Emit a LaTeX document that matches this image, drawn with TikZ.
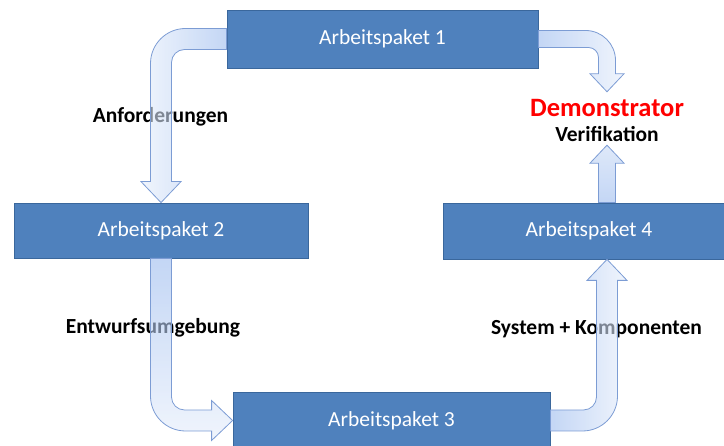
\documentclass[tikz,border=0pt]{standalone}
\usepackage{fontspec}
\setmainfont{Carlito}
\usepackage{xcolor}
\usepackage{tikz}
\usetikzlibrary{calc}

\definecolor{paketblau}{HTML}{4F81BD}
\definecolor{paketrand}{HTML}{3A679C}
\definecolor{pfeilrand}{HTML}{7C9CD4}
\definecolor{pfeildunkel}{HTML}{9CBBEE}
\definecolor{pfeilhell}{HTML}{E6EEFB}
\definecolor{demorot}{HTML}{FF0000}

\begin{document}
\begin{tikzpicture}[
    x=1pt, y=1pt,
    paket/.style={draw=paketrand, line width=0.8pt, fill=paketblau, text=white, inner sep=0pt, font=\fontsize{21.5}{24}\selectfont},
    beschriftung/.style={font=\bfseries\fontsize{21.5}{24}\selectfont},
    blockpfeil/.style={draw=pfeilrand, line width=0.8pt, fill opacity=0.6}
]
\useasboundingbox (0,0) rectangle (724,446);
\clip (0,0) rectangle (724,446);

% Arbeitspakete
\node[paket, minimum width=311pt, minimum height=58pt] (ap1) at (382.5,407) {Arbeitspaket 1};
\node[paket, minimum width=294pt, minimum height=55pt] (ap2) at (161,215.5) {Arbeitspaket 2};
\node[paket, minimum width=317pt, minimum height=57pt] (ap3) at (391.5,25.5) {Arbeitspaket 3};
\node[paket, minimum width=292pt, minimum height=56pt] (ap4) at (589,215) {Arbeitspaket 4};

% Beschriftungen
\node[beschriftung] (anf) at (160.5,329) {Anforderungen};
\node[beschriftung] (entw) at (153,118) {Entwurfsumgebung};
\node[beschriftung] (sys) at (596.5,117) {System + Komponenten};
\node[beschriftung, text=demorot, font=\bfseries\fontsize{26.5}{30}\selectfont] (demo) at (607,338) {Demonstrator};
\node[beschriftung] (veri) at (607,312) {Verifikation};

% AP1 -> AP2
\path[blockpfeil, left color=pfeilhell, right color=pfeildunkel]
    let \p1=(ap1.west), \p2=(ap2.north) in
    (\x1,\y1+10.5) -- (\x2+24.5,\y1+10.5) arc[start angle=90, end angle=180, radius=35]
    -- (\x2-10.5,\y2+21) -- (\x2-20,\y2+21) -- (\p2) -- (\x2+20,\y2+21) -- (\x2+10.5,\y2+21)
    -- (\x2+10.5,\y1-23.5) arc[start angle=180, end angle=90, radius=13]
    -- (\x1,\y1-10.5) -- cycle;

% AP2 -> AP3
\path[blockpfeil, top color=pfeildunkel, bottom color=pfeilhell]
    let \p1=(ap2.south), \p2=(ap3.west) in
    (\x1-10.5,\y1) -- (\x1-10.5,\y2+24.5) arc[start angle=180, end angle=270, radius=35]
    -- (\x2-21,\y2-10.5) -- (\x2-21,\y2-20) -- (\p2) -- (\x2-21,\y2+20) -- (\x2-21,\y2+10.5)
    -- (\x1+23.5,\y2+10.5) arc[start angle=270, end angle=180, radius=13]
    -- (\x1+10.5,\y1) -- cycle;

% AP3 -> AP4
\path[blockpfeil, left color=pfeildunkel, right color=pfeilhell]
    let \p1=(ap3.east), \p2=(ap4.south -| veri) in
    (\x1,\y1-10.5) -- (\x2-24.5,\y1-10.5) arc[start angle=270, end angle=360, radius=35]
    -- (\x2+10.5,\y2-21) -- (\x2+20,\y2-21) -- (\p2) -- (\x2-20,\y2-21) -- (\x2-10.5,\y2-21)
    -- (\x2-10.5,\y1+23.5) arc[start angle=0, end angle=-90, radius=13]
    -- (\x1,\y1+10.5) -- cycle;

% AP4 -> Verifikation
\path[blockpfeil, top color=pfeilhell!60!pfeildunkel, bottom color=pfeildunkel]
    let \p1=(ap4.north -| veri), \p2=(veri.south) in
    (\x1-8.5,\y1) -- (\x1-8.5,\y2-18) -- (\x1-17,\y2-18) -- (\x1,\y2)
    -- (\x1+17,\y2-18) -- (\x1+8.5,\y2-18) -- (\x1+8.5,\y1) -- cycle;

% AP1 -> Demonstrator
\path[blockpfeil, left color=pfeildunkel, right color=pfeilhell]
    let \p1=(ap1.east), \p2=($(demo.north)+(0,4)$) in
    (\x1,\y1+8.5) -- (\x2-21.5,\y1+8.5) arc[start angle=90, end angle=0, radius=30]
    -- (\x2+8.5,\y2+18) -- (\x2+17,\y2+18) -- (\p2) -- (\x2-17,\y2+18) -- (\x2-8.5,\y2+18)
    -- (\x2-8.5,\y1-18.5) arc[start angle=0, end angle=90, radius=10]
    -- (\x1,\y1-8.5) -- cycle;
\end{tikzpicture}
\end{document}
